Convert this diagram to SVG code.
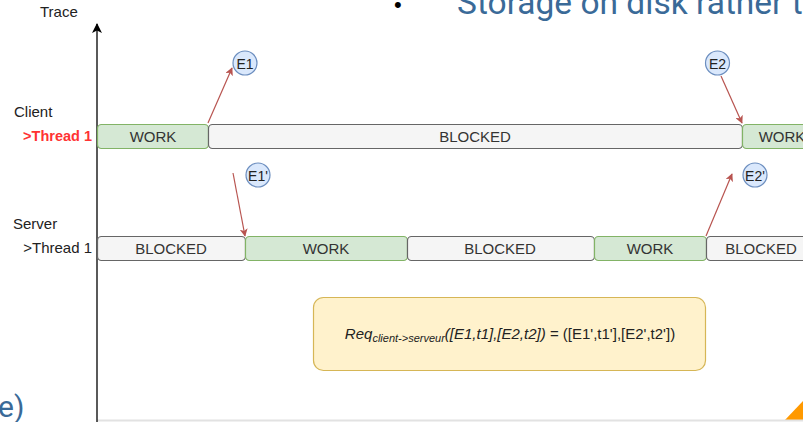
<svg xmlns="http://www.w3.org/2000/svg" width="803" height="422" viewBox="0 0 803 422">
  <defs>
    <marker id="arrowRed" viewBox="0 0 10 10" refX="9" refY="5" markerWidth="8" markerHeight="8" orient="auto" markerUnits="userSpaceOnUse">
      <path d="M0,0 L10,5 L0,10 L2.5,5 Z" fill="#b85450"/>
    </marker>
    <marker id="arrowBlack" viewBox="0 0 10 10" refX="9" refY="5" markerWidth="10" markerHeight="10" orient="auto" markerUnits="userSpaceOnUse">
      <path d="M0,0 L10,5 L0,10 L2.5,5 Z" fill="#000"/>
    </marker>
    <style>
      .lbl { font-family: "Liberation Sans", Arial, sans-serif; font-size: 15px; fill: #222; }
      .bar-text { font-family: "Liberation Sans", Arial, sans-serif; font-size: 15px; fill: #333; text-anchor: middle; dominant-baseline: central; }
      .work { fill: #d5e8d4; stroke: #82b366; stroke-width: 1.2; }
      .blocked { fill: #f5f5f5; stroke: #666666; stroke-width: 1.2; }
      .ev circle { fill: #dae8fc; stroke: #6c8ebf; stroke-width: 1.2; }
      .ev text { font-family: "Liberation Sans", Arial, sans-serif; font-size: 14px; fill: #222; text-anchor: middle; dominant-baseline: central; }
      .msg { stroke: #b85450; stroke-width: 1.2; fill: none; marker-end: url(#arrowRed); }
      .slide { font-family: Roboto, "Open Sans", sans-serif; fill: #3a6a98; }
    </style>
  </defs>

  <rect x="0" y="0" width="803" height="422" fill="#ffffff"/>

  <!-- slide text around the figure -->
  <text x="394" y="12" font-family="Liberation Sans, sans-serif" font-size="22" fill="#000">•</text>
  <text class="slide" x="457" y="14" font-size="33.5">Storage on disk rather t</text>
  <text class="slide" x="-2" y="417" font-size="30">e)</text>
  <polygon points="784,421 803,401 803,421" fill="#ff9900"/>
  <line x1="97" y1="420.5" x2="803" y2="420.5" stroke="#e2e2e2" stroke-width="2"/>

  <!-- time axis -->
  <g id="axis">
    <line x1="97" y1="422" x2="97" y2="24" stroke="#000" stroke-width="1.3" marker-end="url(#arrowBlack)"/>
    <text class="lbl" x="40" y="17">Trace</text>
  </g>

  <!-- client lane -->
  <g id="client-label">
    <text class="lbl" x="14" y="117">Client</text>
    <text x="92" y="141" text-anchor="end" font-family="Liberation Sans, Arial, sans-serif" font-size="14.5" font-weight="bold" fill="#ff3333">&gt;Thread 1</text>
  </g>
  <g id="client-work-1">
    <rect class="work" x="97.5" y="124.5" width="111" height="24" rx="4"/>
    <text class="bar-text" x="153" y="136.5">WORK</text>
  </g>
  <g id="client-blocked">
    <rect class="blocked" x="208.5" y="124.5" width="534" height="24" rx="4"/>
    <text class="bar-text" x="475" y="136.5">BLOCKED</text>
  </g>
  <g id="client-work-2">
    <rect class="work" x="742.5" y="124.5" width="80" height="24" rx="4"/>
    <text class="bar-text" x="782" y="136.5">WORK</text>
  </g>

  <!-- server lane -->
  <g id="server-label">
    <text class="lbl" x="13" y="229">Server</text>
    <text class="lbl" x="92" y="253" text-anchor="end">&gt;Thread 1</text>
  </g>
  <g id="server-blocked-1">
    <rect class="blocked" x="97.5" y="236.5" width="148" height="24" rx="4"/>
    <text class="bar-text" x="171" y="248.5">BLOCKED</text>
  </g>
  <g id="server-work-1">
    <rect class="work" x="245.5" y="236.5" width="162" height="24" rx="4"/>
    <text class="bar-text" x="326" y="248.5">WORK</text>
  </g>
  <g id="server-blocked-2">
    <rect class="blocked" x="407.5" y="236.5" width="187" height="24" rx="4"/>
    <text class="bar-text" x="500" y="248.5">BLOCKED</text>
  </g>
  <g id="server-work-2">
    <rect class="work" x="594.5" y="236.5" width="112" height="24" rx="4"/>
    <text class="bar-text" x="650" y="248.5">WORK</text>
  </g>
  <g id="server-blocked-3">
    <rect class="blocked" x="706.5" y="236.5" width="110" height="24" rx="4"/>
    <text class="bar-text" x="761" y="248.5">BLOCKED</text>
  </g>

  <!-- events -->
  <g id="E1" class="ev">
    <circle cx="245" cy="63" r="12"/>
    <text x="245" y="63.5">E1</text>
  </g>
  <g id="E2" class="ev">
    <circle cx="717.5" cy="63" r="12"/>
    <text x="717.5" y="63.5">E2</text>
  </g>
  <g id="E1p" class="ev">
    <circle cx="258" cy="175" r="12"/>
    <text x="258" y="175.5">E1'</text>
  </g>
  <g id="E2p" class="ev">
    <circle cx="755" cy="175" r="12"/>
    <text x="755" y="175.5">E2'</text>
  </g>

  <!-- messages -->
  <g id="connectors">
    <line class="msg" x1="208" y1="123" x2="232" y2="68"/>
    <line class="msg" x1="721" y1="76" x2="742" y2="123"/>
    <line class="msg" x1="233" y1="173" x2="245" y2="236"/>
    <line class="msg" x1="706" y1="236" x2="732" y2="174"/>
  </g>

  <!-- request formula -->
  <g id="formula">
    <rect x="313.5" y="297.5" width="392" height="73" rx="10" fill="#fff2cc" stroke="#d6b656" stroke-width="1.2"/>
    <text x="510" y="339" text-anchor="middle" font-family="Liberation Sans, Arial, sans-serif" font-size="15" fill="#222"><tspan font-style="italic">Req</tspan><tspan font-style="italic" font-size="11" dy="3">client-&gt;serveur</tspan><tspan font-style="italic" dy="-3">([E1,t1],[E2,t2])</tspan> = ([E1',t1'],[E2',t2'])</text>
  </g>
</svg>
